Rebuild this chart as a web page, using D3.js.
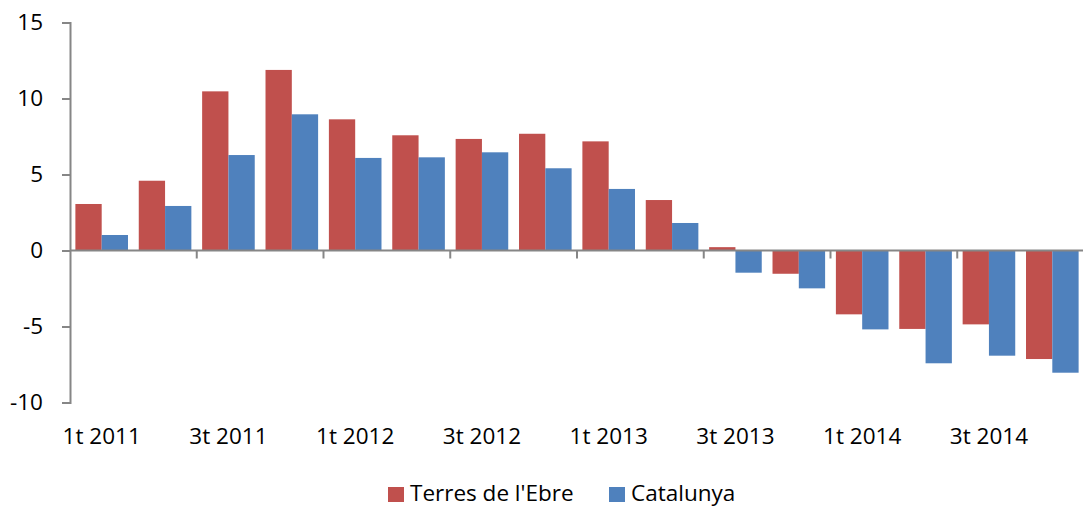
<!DOCTYPE html>
<html>
<head>
<meta charset="utf-8">
<script src="https://cdn.jsdelivr.net/npm/d3@7"></script>
<style>
  body { margin: 0; background: #fff; }
  svg text { font-family: "Open Sans", sans-serif; fill: #000; }
</style>
</head>
<body>
<svg id="chart" width="1083" height="508"></svg>
<script>
// quarters shown on the x axis
const quarters = ["1t 2011", "2t 2011", "3t 2011", "4t 2011",
                  "1t 2012", "2t 2012", "3t 2012", "4t 2012",
                  "1t 2013", "2t 2013", "3t 2013", "4t 2013",
                  "1t 2014", "2t 2014", "3t 2014", "4t 2014"];

const seriesNames = ["Terres de l'Ebre", "Catalunya"];
const seriesColors = ["#C0504D", "#4F81BD"];

// values
const terresEbre = [3.06, 4.59, 10.47, 11.88, 8.63, 7.58, 7.34, 7.68,
                    7.18, 3.32, 0.22, -1.53, -4.2, -5.16, -4.86, -7.14];
const catalunya = [1.02, 2.93, 6.28, 8.96, 6.09, 6.13, 6.46, 5.41,
                   4.05, 1.81, -1.46, -2.49, -5.19, -7.42, -6.92, -8.04];

const yTicks = [-10, -5, 0, 5, 10, 15];

const svg = d3.select("#chart");
const plotLeft = 70, plotRight = 1084, plotTop = 22.5, plotBottom = 402.5;
const axisColor = "#868686";
const fontSize = "22.5px";

const x0 = d3.scaleBand()
  .domain(quarters)
  .range([plotLeft, plotRight])
  .paddingInner(0.17)
  .paddingOuter(0.085);

const x1 = d3.scaleBand()
  .domain(seriesNames)
  .range([0, x0.bandwidth()]);

const y = d3.scaleLinear()
  .domain([-10, 15])
  .range([plotBottom, plotTop]);

// bars
const rows = quarters.map((q, i) => ({ q, vals: [terresEbre[i], catalunya[i]] }));

const groups = svg.append("g").selectAll("g")
  .data(rows)
  .join("g")
  .attr("transform", d => `translate(${x0(d.q)},0)`);

groups.selectAll("rect")
  .data(d => d.vals.map((v, k) => ({ name: seriesNames[k], v, k })))
  .join("rect")
  .attr("x", d => x1(d.name))
  .attr("width", x1.bandwidth())
  .attr("y", d => y(Math.max(0, d.v)))
  .attr("height", d => Math.abs(y(d.v) - y(0)))
  .attr("fill", d => seriesColors[d.k]);

// y axis
const yAxis = svg.append("g")
  .attr("transform", `translate(${plotLeft},0)`)
  .call(d3.axisLeft(y).tickValues(yTicks).tickSize(8).tickPadding(19).tickFormat(d3.format("d")));
yAxis.select(".domain").attr("stroke", axisColor).attr("stroke-width", 2);
yAxis.selectAll(".tick line").attr("stroke", axisColor).attr("stroke-width", 2);
yAxis.selectAll(".tick text").style("font-size", fontSize)
  .text(d => d < 0 ? "-" + Math.abs(d) : d);

// x axis along zero, ticks every two quarters
svg.append("line")
  .attr("x1", plotLeft).attr("x2", plotRight)
  .attr("y1", y(0)).attr("y2", y(0))
  .attr("stroke", axisColor).attr("stroke-width", 2);

const catWidth = (plotRight - plotLeft) / quarters.length;
svg.append("g").selectAll("line")
  .data(d3.range(2, quarters.length + 1, 2))
  .join("line")
  .attr("x1", i => plotLeft + i * catWidth)
  .attr("x2", i => plotLeft + i * catWidth)
  .attr("y1", y(0))
  .attr("y2", y(0) + 8)
  .attr("stroke", axisColor)
  .attr("stroke-width", 2);

// category labels, every other quarter
svg.append("g").selectAll("text")
  .data(quarters.filter((q, i) => i % 2 === 0))
  .join("text")
  .attr("x", q => x0(q) + x0.bandwidth() / 2)
  .attr("y", 444)
  .attr("text-anchor", "middle")
  .style("font-size", fontSize)
  .text(q => q);

// legend
const legend = svg.append("g");
const legendX = [388, 609];
seriesNames.forEach((name, k) => {
  legend.append("rect")
    .attr("x", legendX[k]).attr("y", 487)
    .attr("width", 16).attr("height", 15)
    .attr("fill", seriesColors[k]);
  legend.append("text")
    .attr("x", legendX[k] + 22).attr("y", 501)
    .style("font-size", fontSize)
    .text(name);
});
</script>
</body>
</html>
